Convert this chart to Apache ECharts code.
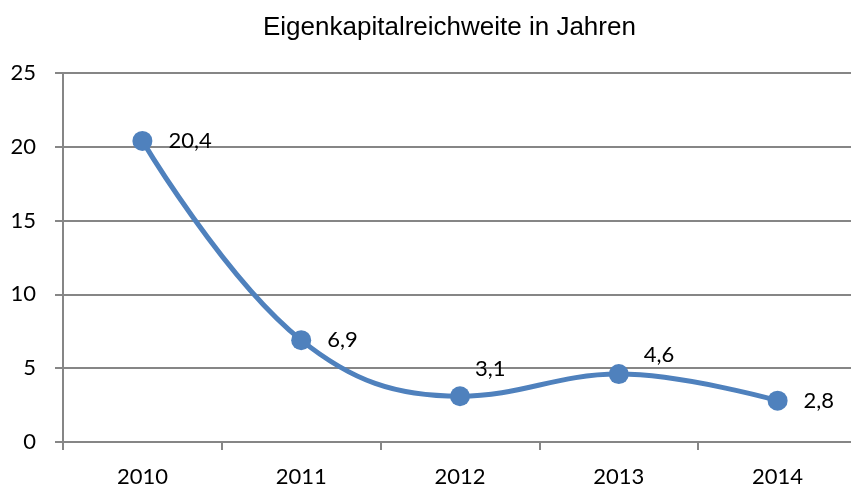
<!DOCTYPE html>
<html>
<head>
<meta charset="utf-8">
<script src="https://cdn.jsdelivr.net/npm/echarts@6/dist/echarts.min.js"></script>
<style>
  html, body { margin: 0; padding: 0; background: #fff; }
  #chart { width: 851px; height: 488px; }
</style>
</head>
<body>
<div id="chart"></div>
<script>
// data
const years = ['2010', '2011', '2012', '2013', '2014'];
const reach = [20.4, 6.9, 3.1, 4.6, 2.8];
const yTicks = [0, 5, 10, 15, 20, 25];

// labels of 2012 and 2013 sit above the point, like in the original
const labelShift = { 2: [-11, -27], 3: [-1, -19] };

const chart = echarts.init(document.getElementById('chart'));
const option = {
    animation: false,
    title: {
        text: 'Eigenkapitalreichweite in Jahren',
        left: 258,
        top: 10,
        textStyle: { fontFamily: 'Liberation Sans', fontSize: 26, fontWeight: 'normal', color: '#000' }
    },
    grid: { left: 63, width: 794, top: 73, bottom: 46, outerBoundsMode: 'none' },
    xAxis: {
        type: 'category',
        data: years,
        boundaryGap: true,
        axisLine: { lineStyle: { color: '#868686', width: 2 } },
        axisTick: { show: true, length: 8, lineStyle: { color: '#868686', width: 2 } },
        axisLabel: { fontFamily: 'Lato', fontSize: 22, color: '#000', margin: 24 }
    },
    yAxis: {
        type: 'value',
        min: yTicks[0],
        max: yTicks[yTicks.length - 1],
        interval: 5,
        axisLine: { show: true, lineStyle: { color: '#868686', width: 2 } },
        axisTick: { show: true, length: 8, lineStyle: { color: '#868686', width: 2 } },
        splitLine: { lineStyle: { color: '#868686', width: 2 } },
        axisLabel: { fontFamily: 'Lato', fontSize: 22, color: '#000', margin: 27 }
    },
    series: [{
        type: 'line',
        data: reach.map((v, i) => labelShift[i]
            ? { value: v, label: { offset: labelShift[i] } }
            : v),
        smooth: 0.4,
        symbol: 'circle',
        symbolSize: 20,
        lineStyle: { color: '#4F81BD', width: 5 },
        itemStyle: { color: '#4F81BD' },
        label: {
            show: true,
            position: 'right',
            distance: 16,
            fontFamily: 'Lato',
            fontSize: 22,
            color: '#000',
            formatter: p => String(p.value).replace('.', ',')
        }
    }]
};
chart.setOption(option);
</script>
</body>
</html>
